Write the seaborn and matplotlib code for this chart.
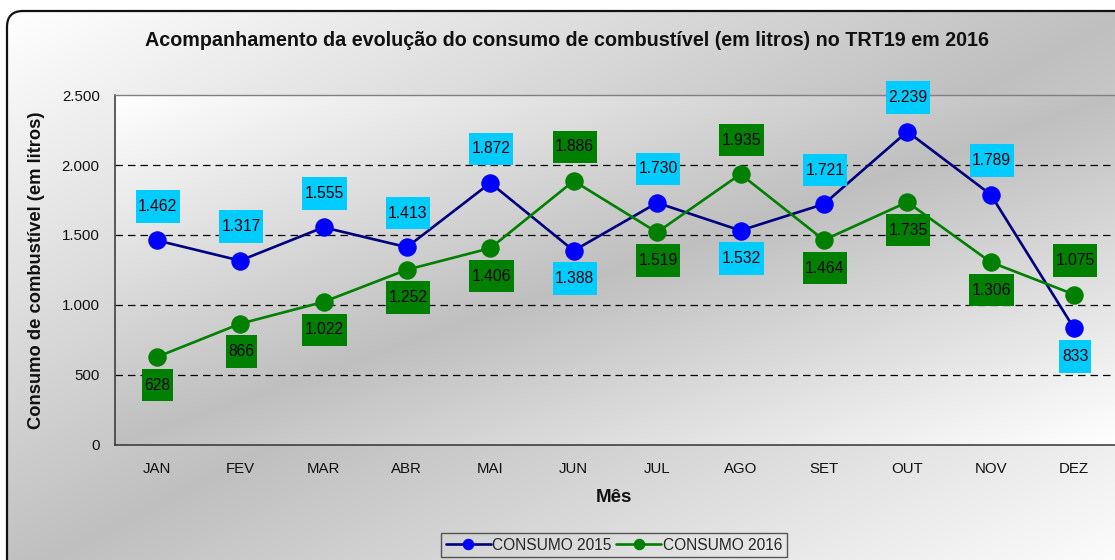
import numpy as np
import pandas as pd
import matplotlib
matplotlib.use("Agg")
import matplotlib.pyplot as plt
import seaborn as sns
from matplotlib.patches import FancyBboxPatch
from matplotlib.path import Path

months = ["JAN", "FEV", "MAR", "ABR", "MAI", "JUN", "JUL", "AGO", "SET", "OUT", "NOV", "DEZ"]
consumo_2015 = [1462, 1317, 1555, 1413, 1872, 1388, 1730, 1532, 1721, 2239, 1789, 833]
consumo_2016 = [628, 866, 1022, 1252, 1406, 1886, 1519, 1935, 1464, 1735, 1306, 1075]
# label placement: 1 = above the point, -1 = below
pos_2015 = [1, 1, 1, 1, 1, -1, 1, -1, 1, 1, 1, -1]
pos_2016 = [-1, -1, -1, -1, -1, 1, -1, 1, -1, -1, -1, 1]
y_ticks = [0, 500, 1000, 1500, 2000, 2500]

sns.set_theme(style="white")
plt.rcParams['font.family'] = ['Liberation Sans', 'DejaVu Sans']

W, H = 1115, 560
fig = plt.figure(figsize=(W / 100, H / 100), dpi=100, facecolor="white")


def diag_gradient(nx, ny, light=1.0, dark=0.75):
    u = np.linspace(0, 1, nx)[None, :]
    v = np.linspace(0, 1, ny)[:, None]
    t = (u + v) / 2.0
    g = dark + (light - dark) * np.abs(2 * t - 1)
    return np.dstack([g, g, g])


def label_box(x0, y0, width, height, mutation_size):
    px = 0.16 * mutation_size
    py = 0.56 * mutation_size
    x0 -= px
    y0 -= py
    x1 = x0 + width + 2 * px
    y1 = y0 + height + 2 * py
    return Path([(x0, y0), (x1, y0), (x1, y1), (x0, y1), (x0, y0)], closed=True)


# figure background (rounded box with gradient)
bg = fig.add_axes([0, 0, 1, 1], zorder=-10)
bg.set_xlim(0, W)
bg.set_ylim(H, 0)
bg.axis("off")
bx0, by0, bx1, by1 = 7, 11, 1135, 580
img = bg.imshow(diag_gradient(300, 200, 1.0, 0.75), extent=(bx0, bx1, by1, by0),
                aspect="auto", interpolation="bilinear")
box = FancyBboxPatch((bx0, by0), bx1 - bx0, by1 - by0,
                     boxstyle="round,pad=0,rounding_size=16",
                     fc="none", ec="#111111", lw=1.6)
bg.add_patch(box)
img.set_clip_path(box)

# plot area
ax = fig.add_axes([115 / W, (H - 445) / H, 1000.8 / W, 350 / H])
ax.set_facecolor("none")
ax.imshow(diag_gradient(300, 200, 1.0, 0.75), extent=(-0.5, 11.5, 0, 2500),
          aspect="auto", interpolation="bilinear", zorder=0)

x = np.arange(len(months))
df = pd.DataFrame({"x": x, "c2015": consumo_2015, "c2016": consumo_2016})

sns.lineplot(data=df, x="x", y="c2015", ax=ax, color="#000080", lw=1.9,
             marker="o", markersize=12.5, markerfacecolor="#0000FF",
             markeredgecolor="#0000FF", label="CONSUMO 2015", zorder=3)
sns.lineplot(data=df, x="x", y="c2016", ax=ax, color="#008000", lw=1.9,
             marker="o", markersize=12.5, markerfacecolor="#008000",
             markeredgecolor="#008000", label="CONSUMO 2016", zorder=3)


def fmt(v):
    return f"{v:,}".replace(",", ".")


for vals, poss, col in [(consumo_2015, pos_2015, "#00CCFF"), (consumo_2016, pos_2016, "#008000")]:
    for i, (v, p) in enumerate(zip(vals, poss)):
        dy = 34 if p > 0 else -28
        ax.annotate(fmt(v), (i, v), xytext=(1, dy), textcoords="offset pixels",
                    ha="center", va="center", fontsize=11.3, color="black",
                    bbox=dict(boxstyle=label_box, fc=col, ec="none"),
                    zorder=5, annotation_clip=False)

ax.set_xlim(-0.5, 11.5)
ax.set_ylim(0, 2500)
ax.set_yticks(y_ticks)
ax.set_yticklabels([fmt(v) for v in y_ticks], fontsize=10.8, color="#111111")
ax.set_xticks(x)
ax.set_xticklabels(months, fontsize=10.8, color="#111111")
ax.set_xticks(np.arange(-0.5, 12.0, 1.0), minor=True)
ax.tick_params(axis="x", which="major", length=0, pad=12)
ax.tick_params(axis="x", which="minor", length=5, width=1, color="#333333", direction="out")
ax.tick_params(axis="y", which="major", length=5, width=1, color="#333333", direction="out", pad=6)
ax.set_xlabel("")
ax.set_ylabel("")

for y in [500, 1000, 1500, 2000]:
    ax.axhline(y, color="#000000", lw=0.9, ls=(0, (6, 4)), zorder=1)

for s in ["left", "bottom"]:
    ax.spines[s].set_visible(True)
    ax.spines[s].set_color("#333333")
    ax.spines[s].set_linewidth(1.1)
ax.spines["top"].set_visible(True)
ax.spines["top"].set_color("#808080")
ax.spines["top"].set_linewidth(1.0)
ax.spines["right"].set_visible(False)

fig.text(567 / W, 1 - 41 / H,
         "Acompanhamento da evolução do consumo de combustível (em litros) no TRT19 em 2016",
         ha="center", va="center", fontsize=14.2, fontweight="bold", color="#111111")
fig.text(37 / W, 1 - 270 / H, "Consumo de combustível (em litros)", rotation=90,
         ha="center", va="center", fontsize=13.2, fontweight="bold", color="#111111")
fig.text(614 / W, 1 - 497 / H, "Mês", ha="center", va="center",
         fontsize=13.5, fontweight="bold", color="#111111")

ax.get_legend().remove()
h, l = ax.get_legend_handles_labels()
leg = fig.legend(h, l, loc="upper center", bbox_to_anchor=(614 / W, 1 - 533 / H),
                 ncol=2, fontsize=11.2, frameon=True, fancybox=False,
                 handlelength=2.9, handletextpad=0.1, columnspacing=0.3,
                 markerscale=0.6, borderpad=0.3, borderaxespad=0)
leg.get_frame().set_facecolor("none")
leg.get_frame().set_edgecolor("#333333")
leg.get_frame().set_linewidth(1.0)

fig.savefig("out.png", dpi=100, facecolor="white")
